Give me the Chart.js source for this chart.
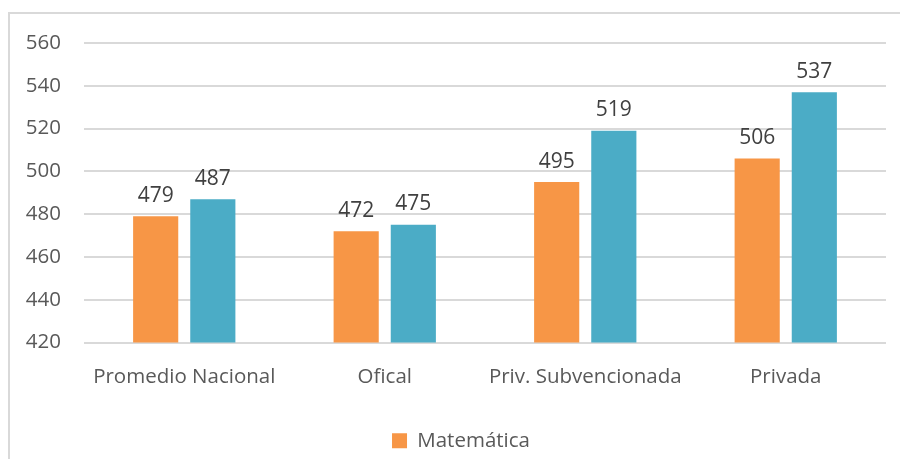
<!DOCTYPE html>
<html>
<head>
<meta charset="utf-8">
<script src="https://cdn.jsdelivr.net/npm/chart.js@4.4.1/dist/chart.umd.min.js"></script>
<style>
  html, body { margin: 0; padding: 0; background: #fff; overflow: hidden; }
  #frame {
    position: absolute; left: 8px; top: 12px; width: 1000px; height: 600px;
    border-left: 2px solid #d9d9d9; border-top: 2px solid #d9d9d9;
  }
  #wrap { position: absolute; left: 0; top: 0; width: 900px; height: 459px; }
</style>
</head>
<body>
<div id="frame"></div>
<div id="wrap"><canvas id="chart"></canvas></div>
<script>
const categories = ["Promedio Nacional", "Ofical", "Priv. Subvencionada", "Privada"];
const matematica = [479, 472, 495, 506];
const lenguaje = [487, 475, 519, 537];
const yTicks = [420, 440, 460, 480, 500, 520, 540, 560];

const FONT = "'Open Sans', sans-serif";

// etichete cu valori deasupra barelor
const valueLabels = {
    id: "valueLabels",
    afterDatasetsDraw(chart) {
        const ctx = chart.ctx;
        ctx.save();
        ctx.font = "21px " + FONT;
        ctx.fillStyle = "#404040";
        ctx.textAlign = "center";
        ctx.textBaseline = "bottom";
        chart.data.datasets.forEach((ds, i) => {
            chart.getDatasetMeta(i).data.forEach((bar, j) => {
                ctx.fillText(ds.data[j], bar.x, bar.y - 10);
            });
        });
        ctx.restore();
    }
};

// legenda e putin spre dreapta si mai jos in original
const legendShift = {
    id: "legendShift",
    afterLayout(chart) {
        chart.legend.left += 36;
        chart.legend.top += 2;
    }
};

new Chart(document.getElementById("chart").getContext("2d"), {
    type: "bar",
    data: {
        labels: categories,
        datasets: [
            { label: "Matemática", data: matematica, backgroundColor: "#F79646" },
            { label: "Lenguaje", data: lenguaje, backgroundColor: "#4BACC6" }
        ]
    },
    options: {
        responsive: true,
        maintainAspectRatio: false,
        animation: false,
        categoryPercentage: 0.57,
        barPercentage: 0.79,
        layout: { padding: { left: 0, right: 14, top: 43, bottom: 0 } },
        scales: {
            x: {
                grid: { display: false, drawTicks: false },
                border: { display: false },
                ticks: { color: "#595959", font: { family: FONT, size: 20.5 }, padding: 22 },
                afterFit(scale) { scale.height = 81; }
            },
            y: {
                min: 420,
                max: 560,
                afterBuildTicks(scale) { scale.ticks = yTicks.map(v => ({ value: v })); },
                grid: { color: "#d9d9d9", lineWidth: 2, drawTicks: false },
                border: { display: false },
                ticks: { color: "#595959", font: { family: FONT, size: 20.5 }, padding: 23 },
                afterFit(scale) { scale.width = 84; }
            }
        },
        plugins: {
            legend: {
                position: "bottom",
                labels: {
                    filter: item => item.datasetIndex === 0,
                    color: "#595959",
                    font: { family: FONT, size: 20.5 },
                    boxWidth: 15,
                    boxHeight: 15,
                    padding: 5
                }
            },
            tooltip: { enabled: false }
        }
    },
    plugins: [valueLabels, legendShift]
});
</script>
</body>
</html>
